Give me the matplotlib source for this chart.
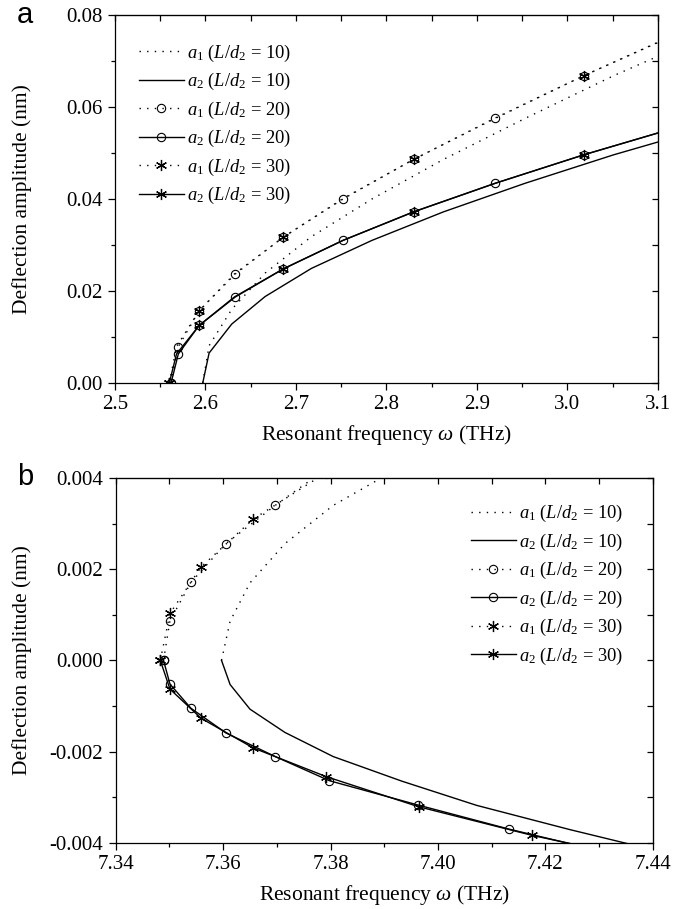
import matplotlib
matplotlib.use('Agg')
import matplotlib.pyplot as plt
from matplotlib.ticker import MultipleLocator, FormatStrFormatter

plt.rcParams['font.family'] = ['Liberation Serif', 'DejaVu Serif']
plt.rcParams['mathtext.fontset'] = 'custom'
plt.rcParams['mathtext.rm'] = 'Liberation Serif'
plt.rcParams['mathtext.it'] = 'Liberation Serif:italic'
plt.rcParams['axes.unicode_minus'] = False

# panel a: first resonance
wa_10 = [2.597, 2.604, 2.629, 2.666, 2.717, 2.784, 2.863, 2.953, 3.051, 3.160]
a1_10 = [0.0, 0.0081, 0.0160, 0.0239, 0.0318, 0.0400, 0.0486, 0.0575, 0.0668, 0.0762]
a2_10 = [0.0, 0.0065, 0.0128, 0.0188, 0.0249, 0.0310, 0.0372, 0.0434, 0.0496, 0.0558]

wa_20 = [2.562, 2.570, 2.593, 2.633, 2.686, 2.752, 2.830, 2.920, 3.018, 3.125]
a1_20 = [0.0, 0.0079, 0.0157, 0.0237, 0.0317, 0.0400, 0.0486, 0.0575, 0.0668, 0.0762]
a2_20 = [0.0, 0.0063, 0.0125, 0.0187, 0.0248, 0.0310, 0.0372, 0.0434, 0.0496, 0.0558]

wa_30 = [2.560, 2.568, 2.593, 2.632, 2.686, 2.752, 2.830, 2.920, 3.018, 3.125]
a1_30 = [0.0, 0.0079, 0.0157, 0.0237, 0.0317, 0.0401, 0.0486, 0.0576, 0.0668, 0.0763]
a2_30 = [0.0, 0.0063, 0.0125, 0.0187, 0.0248, 0.0310, 0.0372, 0.0434, 0.0496, 0.0558]

# panel b: second resonance
wb_10 = [7.3597, 7.3613, 7.3650, 7.3715, 7.3805, 7.3933, 7.4072, 7.4245, 7.4430]
b1_10 = [0.0, 0.00086, 0.00170, 0.00256, 0.00340, 0.00426, 0.0051, 0.0060, 0.0068]
b2_10 = [0.0, -0.00053, -0.00107, -0.00158, -0.00211, -0.00265, -0.00318, -0.00371, -0.00424]

wb_20 = [7.3489, 7.3501, 7.3540, 7.3605, 7.3697, 7.3798, 7.3962, 7.4132, 7.4320]
b1_20 = [0.0, 0.00087, 0.00171, 0.00256, 0.00340, 0.00425, 0.0051, 0.0059, 0.0068]
b2_20 = [0.0, -0.00052, -0.00105, -0.00159, -0.00211, -0.00264, -0.00317, -0.00370, -0.00423]

wb_30 = [7.3483, 7.3501, 7.3559, 7.3656, 7.3792, 7.3964, 7.4176, 7.4430]
b1_30 = [0.0, 0.00103, 0.00205, 0.00310, 0.00412, 0.0051, 0.0062, 0.0072]
b2_30 = [0.0, -0.00063, -0.00127, -0.00192, -0.00255, -0.00321, -0.00384, -0.00448]

labels = [r'$a_1$ ($L/d_2$ = 10)', r'$a_2$ ($L/d_2$ = 10)',
          r'$a_1$ ($L/d_2$ = 20)', r'$a_2$ ($L/d_2$ = 20)',
          r'$a_1$ ($L/d_2$ = 30)', r'$a_2$ ($L/d_2$ = 30)']

dots = (0, (1, 4.5))
star = (6, 2, 0)


def draw(ax, w10, s10, w20, s20, w30, s30, every30):
    lw = 1.0
    ax.plot(w10, s10[0], color='k', lw=lw, ls=dots, label=labels[0])
    ax.plot(w10, s10[1], color='k', lw=lw, ls='-', label=labels[1])
    ax.plot(w20, s20[0], color='k', lw=lw, ls=dots, marker='o', ms=6,
            mfc='none', mew=0.8, label=labels[2])
    ax.plot(w20, s20[1], color='k', lw=lw, ls='-', marker='o', ms=6,
            mfc='none', mew=0.8, label=labels[3])
    ax.plot(w30, s30[0], color='k', lw=lw, ls=dots, marker=star, ms=8,
            mew=0.9, markevery=every30, label=labels[4])
    ax.plot(w30, s30[1], color='k', lw=lw, ls='-', marker=star, ms=8,
            mew=0.9, markevery=every30, label=labels[5])


def style(ax, xlim, ylim, xmaj, ymaj, xfmt, yfmt, ylab_x):
    ax.set_xlim(*xlim)
    ax.set_ylim(*ylim)
    ax.xaxis.set_major_locator(MultipleLocator(xmaj))
    ax.xaxis.set_minor_locator(MultipleLocator(xmaj / 2))
    ax.yaxis.set_major_locator(MultipleLocator(ymaj))
    ax.yaxis.set_minor_locator(MultipleLocator(ymaj / 2))
    ax.xaxis.set_major_formatter(FormatStrFormatter(xfmt))
    ax.yaxis.set_major_formatter(FormatStrFormatter(yfmt))
    ax.tick_params(which='major', direction='out', length=5, width=0.9,
                   labelsize=15, pad=4)
    ax.tick_params(which='minor', direction='out', length=3, width=0.9)
    for sp in ax.spines.values():
        sp.set_linewidth(0.9)
    top = ax.secondary_xaxis('top')
    top.xaxis.set_major_locator(MultipleLocator(xmaj))
    top.xaxis.set_minor_locator(MultipleLocator(xmaj / 2))
    top.tick_params(which='both', direction='in', length=4, width=0.9,
                    labeltop=False)
    right = ax.secondary_yaxis('right')
    right.yaxis.set_major_locator(MultipleLocator(ymaj))
    right.yaxis.set_minor_locator(MultipleLocator(ymaj / 2))
    right.tick_params(which='both', direction='in', length=4, width=0.9,
                      labelright=False)
    ax.set_xlabel(r'Resonant frequency $\omega$ (THz)', fontsize=15.5, labelpad=6)
    ax.set_ylabel('Deflection amplitude (nm)', fontsize=15.5)
    ax.yaxis.set_label_coords(ylab_x, 0.5)


fig = plt.figure(figsize=(6.86, 9.09), dpi=100)
ax_a = fig.add_axes([0.1676, 0.5787, 0.7915, 0.4048])
ax_b = fig.add_axes([0.1687, 0.0729, 0.7828, 0.4012])

legend_kw = dict(frameon=False, fontsize=13.3, handlelength=2.45,
                 handletextpad=0.15, labelspacing=0.4, numpoints=1,
                 borderaxespad=0)

draw(ax_a, wa_10, (a1_10, a2_10), wa_20, (a1_20, a2_20),
     wa_30, (a1_30, a2_30), 2)
style(ax_a, (2.5, 3.1), (0.0, 0.08), 0.1, 0.02, '%.1f', '%.2f', -0.152)
ax_a.legend(loc='upper left', bbox_to_anchor=(0.03, 0.945), **legend_kw)

draw(ax_b, wb_10, (b1_10, b2_10), wb_20, (b1_20, b2_20),
     wb_30, (b1_30, b2_30), 1)
style(ax_b, (7.34, 7.44), (-0.004, 0.004), 0.02, 0.002, '%.2f', '%.3f', -0.155)
ax_b.legend(loc='upper right', bbox_to_anchor=(0.958, 0.952), **legend_kw)

fig.text(17 / 686, 1 - 23 / 909, 'a', family='Liberation Sans', fontsize=21,
         va='baseline')
fig.text(17 / 686, 1 - 485 / 909, 'b', family='Liberation Sans', fontsize=21,
         va='baseline')

fig.savefig('out.png', dpi=100)
